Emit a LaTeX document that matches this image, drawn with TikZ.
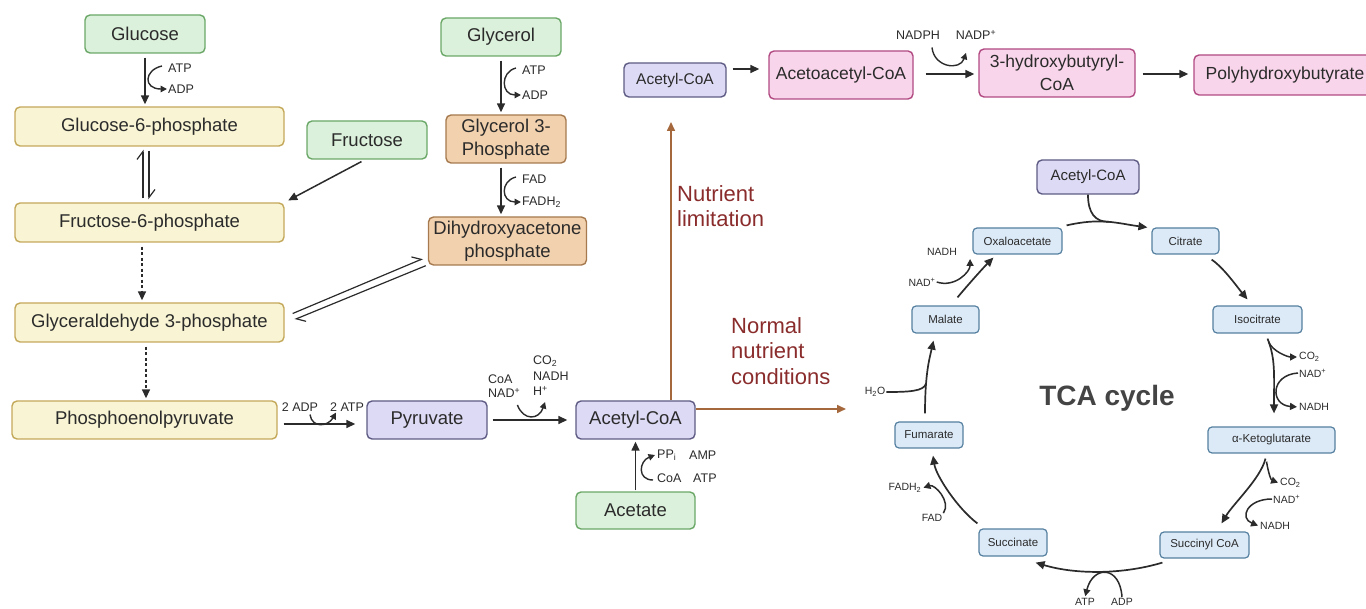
\documentclass[tikz,border=0pt]{standalone}
\usepackage{fontspec}
\setmainfont{Liberation Sans}
\usetikzlibrary{calc,arrows.meta}

\definecolor{txt}{HTML}{2B2B2B}
\definecolor{grnfill}{HTML}{DCF1DB}
\definecolor{grnline}{HTML}{6BA868}
\definecolor{ylwfill}{HTML}{F8F4D4}
\definecolor{ylwline}{HTML}{C4A85A}
\definecolor{tanfill}{HTML}{F2D1AE}
\definecolor{tanline}{HTML}{A67A4E}
\definecolor{lavfill}{HTML}{DDDAF5}
\definecolor{lavline}{HTML}{5E5C84}
\definecolor{pnkfill}{HTML}{F8D5EA}
\definecolor{pnkline}{HTML}{B24A82}
\definecolor{cycfill}{HTML}{DCEAF8}
\definecolor{cycline}{HTML}{55809F}
\definecolor{brn}{HTML}{A5683C}
\definecolor{condtxt}{HTML}{8A2C2C}
\definecolor{tcatxt}{HTML}{444444}

\tikzset{
  box/.style={draw, rounded corners=5pt, line width=1.4pt, align=center, inner sep=1pt,
    text=txt, font=\fontsize{18.5}{23}\selectfont},
  srcbox/.style={box, fill=grnfill, draw=grnline},
  glybox/.style={box, fill=ylwfill, draw=ylwline},
  glpbox/.style={box, fill=tanfill, draw=tanline},
  acbox/.style={box, fill=lavfill, draw=lavline},
  phbbox/.style={box, fill=pnkfill, draw=pnkline, font=\fontsize{17.5}{23}\selectfont},
  cycbox/.style={box, fill=cycfill, draw=cycline, line width=1.2pt, rounded corners=4pt,
    font=\fontsize{11.5}{13}\selectfont},
  cof/.style={inner sep=1pt, text=txt, font=\fontsize{12.5}{14.5}\selectfont},
  tcof/.style={cof, font=\fontsize{10.5}{12}\selectfont},
  cond/.style={inner sep=0pt, align=left, text=condtxt, font=\fontsize{22}{25.5}\selectfont},
  arr/.style={line width=1.5pt, draw=txt, -{Triangle[length=9pt,width=8pt]},
    shorten <=4pt, shorten >=2pt},
  dots/.style={dash pattern=on 3pt off 2.5pt},
  harp/.style={line width=1.2pt, draw=txt, -{Straight Barb[left,length=8pt,width=12pt]},
    shorten <=4pt, shorten >=3pt},
  turn/.style={line width=1.4pt, draw=txt, -{Triangle[length=6.5pt,width=6.5pt]}},
  brnarr/.style={line width=1.6pt, draw=brn, -{Triangle[length=9pt,width=8pt]}},
  tarr/.style={line width=1.7pt, draw=txt, -{Triangle[length=9pt,width=8pt]}},
  tline/.style={line width=1.7pt, draw=txt},
  tturn/.style={line width=1.5pt, draw=txt, -{Triangle[length=7pt,width=7pt]}, shorten >=1pt}
}

\begin{document}
\begin{tikzpicture}[x=1pt,y=-1pt]
\useasboundingbox (0,0) rectangle (1366,609);

% glycolysis
\node[srcbox, minimum width=120pt, minimum height=38pt] (glc) at (145,34) {Glucose};
\node[glybox, minimum width=269pt, minimum height=39pt] (g6p) at (149.5,126.5) {Glucose-6-phosphate};
\node[srcbox, minimum width=120pt, minimum height=38pt] (fru) at (367,140) {Fructose};
\node[glybox, minimum width=269pt, minimum height=39pt] (f6p) at (149.5,222.5) {Fructose-6-phosphate};
\node[glybox, minimum width=269pt, minimum height=39pt] (ga3p) at (149.5,322.5) {Glyceraldehyde 3-phosphate};
\node[glybox, minimum width=265pt, minimum height=38pt] (pep) at (144.5,420) {Phosphoenolpyruvate};

\node[srcbox, minimum width=120pt, minimum height=38pt] (gly) at (501,37) {Glycerol};
\node[glpbox, minimum width=120pt, minimum height=48pt] (g3p) at (506,139) {Glycerol 3-\\Phosphate};
\node[glpbox, minimum width=158pt, minimum height=48pt] (dhap) at (507.5,241) {Dihydroxyacetone\\phosphate};

\node[acbox, minimum width=120pt, minimum height=38pt] (pyr) at (427,420) {Pyruvate};
\node[acbox, minimum width=119pt, minimum height=38pt] (acoa) at (635.5,420) {Acetyl-CoA};
\node[srcbox, minimum width=119pt, minimum height=37pt] (acet) at (635.5,510.5) {Acetate};

% PHB branch
\node[acbox, minimum width=102pt, minimum height=34pt, font=\fontsize{15.5}{18}\selectfont] (acoa2) at (675,80) {Acetyl-CoA};
\node[phbbox, minimum width=144pt, minimum height=48pt] (aacoa) at (841,75) {Acetoacetyl-CoA};
\node[phbbox, minimum width=156pt, minimum height=48pt] (hbcoa) at (1057,73) {3-hydroxybutyryl-\\CoA};
\node[phbbox, minimum width=182pt, minimum height=40pt] (phb) at (1285,75) {Polyhydroxybutyrate};

% TCA cycle
\node[acbox, minimum width=102pt, minimum height=34pt, font=\fontsize{15}{18}\selectfont] (tacoa) at (1088,177) {Acetyl-CoA};
\node[cycbox, minimum width=67pt, minimum height=26pt] (cit) at (1185.5,241) {Citrate};
\node[cycbox, minimum width=89pt, minimum height=27pt] (icit) at (1257.5,319.5) {Isocitrate};
\node[cycbox, minimum width=127pt, minimum height=26pt] (akg) at (1271.5,440) {α-Ketoglutarate};
\node[cycbox, minimum width=89pt, minimum height=26pt] (scoa) at (1204.5,545) {Succinyl CoA};
\node[cycbox, minimum width=68pt, minimum height=27pt] (suc) at (1013,542.5) {Succinate};
\node[cycbox, minimum width=68pt, minimum height=26pt] (fum) at (929,435) {Fumarate};
\node[cycbox, minimum width=67pt, minimum height=27pt] (mal) at (945.5,319.5) {Malate};
\node[cycbox, minimum width=89pt, minimum height=26pt] (oaa) at (1017.5,241) {Oxaloacetate};
\node[text=tcatxt, font=\fontsize{28}{32}\selectfont\bfseries] (tca) at (1107,398) {TCA cycle};

% cofactors
\node[cof, anchor=west] (atp1) at (167,68) {ATP};
\node[cof, anchor=west] (adp1) at (167,89) {ADP};
\node[cof, anchor=west] (atp2) at (521,70) {ATP};
\node[cof, anchor=west] (adp2) at (521,95) {ADP};
\node[cof, anchor=west] (fad1) at (521,179) {FAD};
\node[cof, anchor=west] (fadh1) at (521,202) {FADH\textsubscript{2}};
\node[cof] (adp3) at (300,407) {2 ADP};
\node[cof] (atp3) at (347,407) {2 ATP};
\node[cof, anchor=west] (coa1) at (487,379) {CoA};
\node[cof, anchor=west] (nad1) at (487,393) {NAD\textsuperscript{+}};
\node[cof, anchor=west] (co2a) at (532,361) {CO\textsubscript{2}};
\node[cof, anchor=west] (nadh1) at (532,376) {NADH};
\node[cof, anchor=west] (hp1) at (532,391) {H\textsuperscript{+}};
\node[cof, anchor=west] (ppi) at (656,455) {PP\textsubscript{i}};
\node[cof, anchor=west] (amp) at (688,455) {AMP};
\node[cof, anchor=west] (coa2) at (656,478) {CoA};
\node[cof, anchor=west] (atp4) at (692,478) {ATP};
\node[cof] (nadph) at (918,35) {NADPH};
\node[cof] (nadp) at (976,35) {NADP\textsuperscript{+}};

\node[tcof] (nadh2) at (942,252) {NADH};
\node[tcof] (nad2) at (922,282) {NAD\textsuperscript{+}};
\node[tcof] (h2o) at (875,392) {H\textsubscript{2}O};
\node[tcof] (fadh2) at (905,488) {FADH\textsubscript{2}};
\node[tcof] (fad2) at (932,518) {FAD};
\node[tcof] (atp5) at (1085,602) {ATP};
\node[tcof] (adp5) at (1122,602) {ADP};
\node[tcof, anchor=west] (co2b) at (1298,357) {CO\textsubscript{2}};
\node[tcof, anchor=west] (nad3) at (1298,373) {NAD\textsuperscript{+}};
\node[tcof, anchor=west] (nadh3) at (1298,407) {NADH};
\node[tcof, anchor=west] (co2c) at (1279,483) {CO\textsubscript{2}};
\node[tcof, anchor=west] (nad4) at (1272,499) {NAD\textsuperscript{+}};
\node[tcof, anchor=west] (nadh4) at (1259,526) {NADH};

\node[cond, anchor=west] (limtxt) at (677,206) {Nutrient\\limitation};
\node[cond, anchor=west] (normtxt) at (731,351) {Normal\\nutrient\\conditions};

% glycolysis arrows
\draw[arr] (glc.south) -- (glc.south |- g6p.north);
\draw[turn] ($(atp1.west)+(-5,-2)$) .. controls +(-18,4) and +(-24,0) .. (adp1.west);
\draw[harp] ($(f6p.north)+(-6.5,0)$) -- ($(g6p.south)+(-6.5,0)$);
\draw[harp] ($(g6p.south)+(-0.5,0)$) -- ($(f6p.north)+(-0.5,0)$);
\draw[arr, shorten >=4pt] ($(fru.south)+(-2,0)$) -- (f6p.north east);
\draw[arr, dots] ($(f6p.south)+(-7.5,0)$) -- ($(ga3p.north)+(-7.5,0)$);
\draw[arr, dots] ($(ga3p.south)+(-3.5,0)$) -- ($(pep.north)+(1.5,0)$);

\draw[arr] (gly.south) -- (gly.south |- g3p.north);
\draw[turn] ($(atp2.west)+(-5,-2)$) .. controls +(-16,4) and +(-20,0) .. (adp2.west);
\draw[arr] (g3p.south -| gly.south) -- (gly.south |- dhap.north);
\draw[turn] ($(fad1.west)+(-5,-2)$) .. controls +(-16,4) and +(-20,0) .. (fadh1.west);
\draw[harp, shorten <=0pt, shorten >=0pt] ($(ga3p.east)+(8,-9)$) -- ($(dhap.south west)+(-5,-7)$);
\draw[harp, shorten <=0pt, shorten >=0pt] ($(dhap.south west)+(-2,0)$) -- ($(ga3p.east)+(10,-3)$);

\draw[arr, shorten <=6pt, shorten >=11pt] ($(pep.east)+(0,4)$) -- ($(pyr.west |- pep.east)+(0,4)$);
\draw[turn] ($(adp3.south)+(10,2)$) .. controls +(2,14) and +(-8,14) .. ($(atp3.south)+(-11,0)$);
\draw[arr, shorten <=5pt, shorten >=8pt] (pyr.east) -- (acoa.west);
\draw[turn] ($(nad1.east)+(-4,12)$) .. controls +(6,16) and +(-6,18) .. ($(hp1.east)+(-4,11)$);
\draw[arr, shorten <=1pt, shorten >=2pt] (acet.north) -- (acoa.south);
\draw[turn] ($(coa2.west)+(-3,2)$) .. controls +(-16,0) and +(-16,6) .. ($(ppi.west)+(-1,0)$);

% branch point
\coordinate (phbway) at (671,122);
\coordinate (tcaway) at (846,409);
\draw[brnarr] (acoa.north -| phbway) -- (phbway);
\draw[brnarr] (acoa.east |- tcaway) -- (tcaway);

% PHB arrows
\draw[arr, shorten <=6pt, shorten >=9pt] ($(acoa2.east)+(0,-11)$) -- ($(aacoa.west)+(0,-6)$);
\draw[arr, shorten <=12pt, shorten >=4pt] ($(aacoa.east)+(0,-1)$) -- ($(hbcoa.west)+(0,1)$);
\draw[turn] ($(nadph.south)+(14,7)$) .. controls +(2,20) and +(-6,18) .. ($(nadp.south)+(-10,12)$);
\draw[arr, shorten <=7pt, shorten >=5pt] ($(hbcoa.east)+(0,1)$) -- ($(phb.west)+(0,-1)$);

% TCA arrows
\draw[tarr] ($(oaa.north east)+(4,-2)$) .. controls +(35,-8) and +(-30,-4) .. ($(cit.north west)+(-4,0)$)
  coordinate[pos=0.5] (acin);
\draw[tline] (tacoa.south) .. controls +(0,18) and +(-14,0) .. (acin);
\draw[tarr] ($(cit.south east)+(-8,5)$) .. controls +(12,8) and +(-10,-12) .. ($(icit.north)+(-10,-6)$);
\draw[tarr] ($(icit.south)+(10,5)$) .. controls +(8,20) and +(0,-40) .. ($(akg.north)+(2.5,-13)$);
\draw[tturn] ($(icit.south)+(11,8)$) .. controls +(4,10) and +(-10,0) .. (co2b.west);
\draw[tturn] (nad3.west) .. controls +(-28,2) and +(-28,-2) .. (nadh3.west);
\draw[tarr] ($(akg.south)+(-6,5)$) .. controls +(-5,20) and +(12,-20) .. ($(scoa.north)+(17,-8)$);
\draw[tturn] ($(akg.south)+(-5,8)$) .. controls +(2,12) and +(-8,-3) .. (co2c.west);
\draw[tturn] (nad4.west) .. controls +(-25,0) and +(-20,-8) .. (nadh4.west);
\draw[tarr] ($(scoa.south west)+(3,4)$) .. controls +(-40,12) and +(40,12) .. ($(suc.south east)+(-12,6)$);
\draw[tturn] (adp5.north) .. controls +(-2,-32) and +(8,-32) .. (atp5.north);
\draw[tarr] ($(suc.north west)+(-1,-5)$) .. controls +(-20,-15) and +(3,20) .. ($(fum.south)+(4,7)$);
\draw[tturn] (fad2.north east) .. controls +(8,-12) and +(12,-4) .. (fadh2.east);
\draw[tarr] ($(fum.north)+(-4,-8)$) .. controls +(0,-40) and +(-4,18) .. ($(mal.south)+(-12,7)$)
  coordinate[pos=0.3] (h2oin);
\draw[tline] (h2o.east) .. controls +(22,0) and +(-2,8) .. (h2oin);
\draw[tarr] ($(mal.north)+(12,-8)$) .. controls +(10,-12) and +(-10,10) .. ($(oaa.south west)+(21,3)$);
\draw[tturn] (nad2.east) .. controls +(18,6) and +(0,14) .. ($(nadh2.east)+(12,6)$);
\end{tikzpicture}
\end{document}
